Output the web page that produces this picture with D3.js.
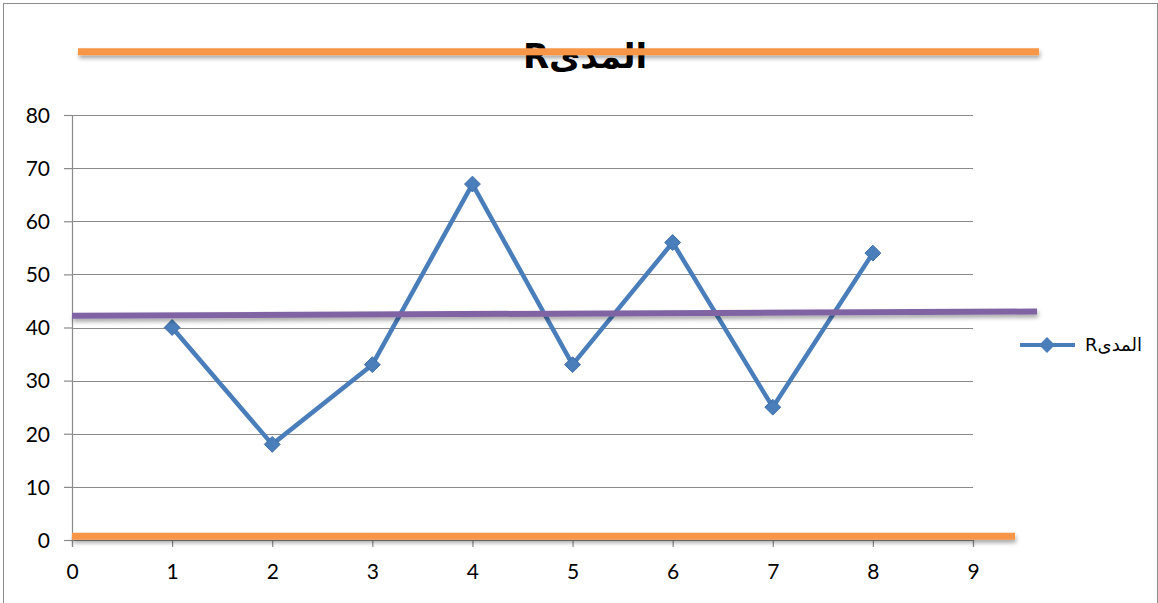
<!DOCTYPE html>
<html>
<head>
<meta charset="utf-8">
<script src="https://cdn.jsdelivr.net/npm/d3@7"></script>
<style>
  html, body { margin: 0; padding: 0; background: #fff; }
  svg { display: block; font-family: Lato, "Open Sans", "Noto Sans", sans-serif; }
</style>
</head>
<body>
<svg id="chart" width="1158" height="603"></svg>
<script>
// Sample numbers and their ranges (R)
const samples = [1, 2, 3, 4, 5, 6, 7, 8];
const ranges = [40, 18, 33, 67, 33, 56, 25, 54];
const xTicks = [0, 1, 2, 3, 4, 5, 6, 7, 8, 9];
const yTicks = [0, 10, 20, 30, 40, 50, 60, 70, 80];
const seriesName = "المدىR";
const chartTitle = "المدىR";

// Hand-drawn control lines: [x0, y0, x1, y1] in data units
const upperLine = [0.06, 91.9, 9.66, 91.9];
const centerLine = [0, 42.2, 9.64, 43.0];
const lowerLine = [0, 0.7, 9.42, 0.7];

const svg = d3.select("#chart");
const W = 1158, H = 603;

const x = d3.scaleLinear().domain([0, 9]).range([72, 973]);
const y = d3.scaleLinear().domain([0, 80]).range([540, 115]);

// Soft shadow for drawn shapes (user-space region so flat lines still render)
const defs = svg.append("defs");
const f = defs.append("filter").attr("id", "shadow")
  .attr("filterUnits", "userSpaceOnUse")
  .attr("x", 0).attr("y", 0).attr("width", W).attr("height", H);
f.append("feDropShadow").attr("dx", 1).attr("dy", 3).attr("stdDeviation", 2)
  .attr("flood-color", "#000").attr("flood-opacity", 0.35);

// Outer frame
svg.append("rect").attr("x", 3.5).attr("y", 3.5).attr("width", W - 4).attr("height", H - 2)
  .attr("fill", "none").attr("stroke", "#8c8c8c").attr("stroke-width", 1);

// Gridlines
svg.append("g").selectAll("line").data(yTicks.filter(d => d > 0)).join("line")
  .attr("x1", x(0)).attr("x2", x(9))
  .attr("y1", d => Math.round(y(d)) + 0.5).attr("y2", d => Math.round(y(d)) + 0.5)
  .attr("stroke", "#8a8a8a").attr("stroke-width", 1);

// Axes
const yAxis = d3.axisLeft(y).tickValues(yTicks).tickSize(8).tickPadding(14).tickFormat(d3.format("d"));
const gy = svg.append("g").attr("transform", `translate(${x(0)},0)`).call(yAxis);
const xAxis = d3.axisBottom(x).tickValues(xTicks).tickSize(7).tickPadding(14).tickFormat(d3.format("d"));
const gx = svg.append("g").attr("transform", `translate(0,${y(0)})`).call(xAxis);
[gx, gy].forEach(g => {
  g.select(".domain").attr("stroke", "#8a8a8a").attr("stroke-width", 1.2);
  g.selectAll(".tick line").attr("stroke", "#8a8a8a").attr("stroke-width", 1.2);
  g.selectAll(".tick text").attr("fill", "#000").attr("font-size", 21)
    .attr("font-family", "Lato, 'Open Sans', sans-serif");
});
gy.selectAll(".tick text").attr("dy", "0.35em");
gx.selectAll(".tick text").attr("dy", "0.85em");

// Data series
const line = d3.line().x((d, i) => x(samples[i])).y(d => y(d));
svg.append("path").datum(ranges)
  .attr("d", line).attr("fill", "none")
  .attr("stroke", "#4a7ebb").attr("stroke-width", 4.5).attr("stroke-linejoin", "round");

const diamond = d3.symbol().type(d3.symbolDiamond2).size(160);
svg.append("g").selectAll("path").data(ranges).join("path")
  .attr("transform", (d, i) => `translate(${x(samples[i])},${y(d)})`)
  .attr("d", diamond)
  .attr("fill", "#4a7ebb").attr("stroke", "#3f6fa8").attr("stroke-width", 1);

// Control lines
function ctrl(c, color, w) {
  svg.append("line")
    .attr("x1", x(c[0])).attr("y1", y(c[1])).attr("x2", x(c[2])).attr("y2", y(c[3]))
    .attr("stroke", color).attr("stroke-width", w).attr("filter", "url(#shadow)");
}
ctrl(centerLine, "#8064a2", 6);
ctrl(lowerLine, "#f79646", 7);

// Title, with the upper line drawn across it
svg.append("text")
  .attr("x", 585).attr("y", 68)
  .attr("text-anchor", "middle").attr("direction", "rtl")
  .attr("font-size", 34).attr("font-weight", "bold")
  .attr("font-family", "'DejaVu Sans', 'Noto Sans', sans-serif")
  .attr("fill", "#000").text(chartTitle);
ctrl(upperLine, "#f79646", 7);

// Legend
const lg = svg.append("g").attr("transform", "translate(1020,345)");
lg.append("line").attr("x1", 0).attr("x2", 55).attr("y1", 0).attr("y2", 0)
  .attr("stroke", "#4a7ebb").attr("stroke-width", 4);
lg.append("path").attr("transform", "translate(27,0)").attr("d", diamond)
  .attr("fill", "#4a7ebb");
lg.append("text").attr("x", 122).attr("y", 0).attr("dy", "0.35em")
  .attr("text-anchor", "start").attr("direction", "rtl")
  .attr("font-size", 18).attr("fill", "#000")
  .attr("font-family", "'DejaVu Sans', 'Noto Sans', sans-serif")
  .text(seriesName);
</script>
</body>
</html>
